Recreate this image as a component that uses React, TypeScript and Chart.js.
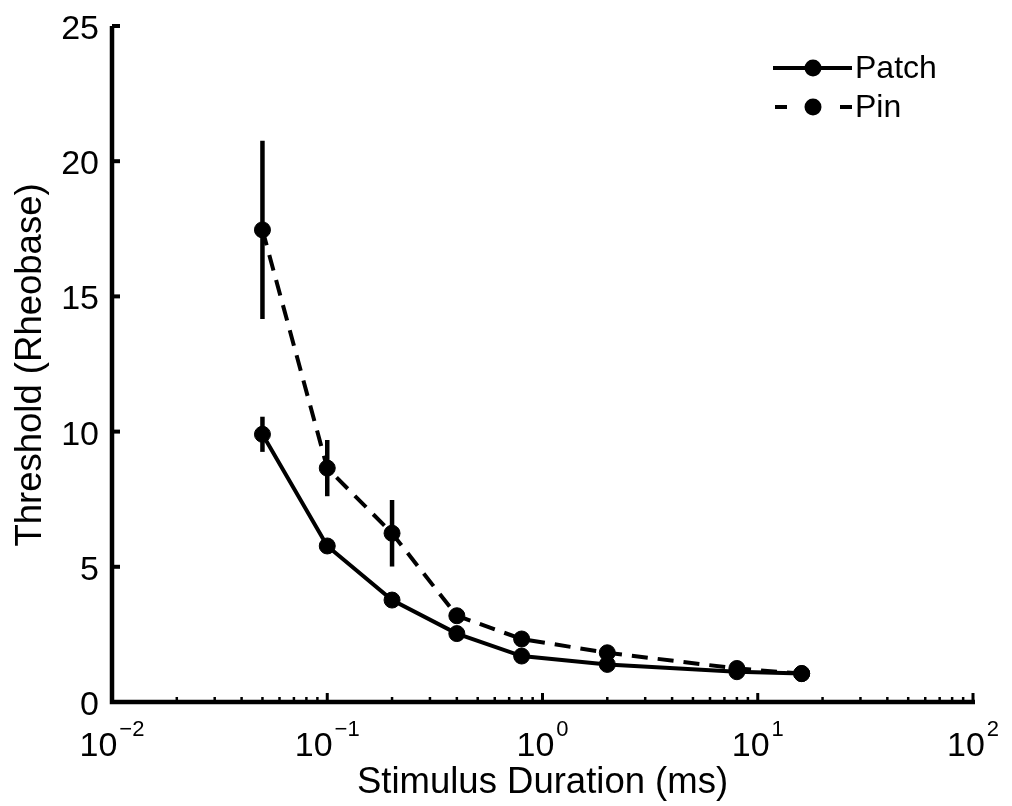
import React, { useEffect, useRef } from "react";
import { Chart, registerables } from "chart.js";

Chart.register(...registerables);

// ---- data ----
const DURATIONS = [0.05, 0.1, 0.2, 0.4, 0.8, 2, 8, 16];
const PATCH = [9.9, 5.77, 3.77, 2.53, 1.7, 1.39, 1.12, 1.05];
const PATCH_ERR = [0.65, 0, 0, 0, 0, 0, 0, 0];
const PIN = [17.46, 8.65, 6.24, 3.19, 2.33, 1.82, 1.24, 1.05];
const PIN_ERR = [3.3, 1.04, 1.23, 0, 0, 0, 0, 0];
const Y_TICKS = [0, 5, 10, 15, 20, 25];
const X_EXPONENTS = [-2, -1, 0, 1, 2];
const SERIES_NAMES = ["Patch", "Pin"];
const X_TITLE = "Stimulus Duration (ms)";
const Y_TITLE = "Threshold (Rheobase)";

const FONT = '"Liberation Sans", Arial, Helvetica, sans-serif';

const customPlugin = {
  id: "matlabStyle",
  beforeDatasetsDraw(chart: any) {
    const ctx = chart.ctx;
    const xs = chart.scales.x;
    const ys = chart.scales.y;
    ctx.save();
    ctx.strokeStyle = "#000";
    ctx.lineWidth = 4.5;
    ctx.lineCap = "butt";
    const errs = [PATCH_ERR, PIN_ERR];
    const vals = [PATCH, PIN];
    for (let s = 0; s < 2; s++) {
      for (let i = 0; i < DURATIONS.length; i++) {
        const e = errs[s][i];
        if (!e) continue;
        const px = xs.getPixelForValue(DURATIONS[i]);
        ctx.beginPath();
        ctx.moveTo(px, ys.getPixelForValue(vals[s][i] + e));
        ctx.lineTo(px, ys.getPixelForValue(vals[s][i] - e));
        ctx.stroke();
      }
    }
    ctx.restore();
  },
  afterDraw(chart: any) {
    const ctx = chart.ctx;
    const xs = chart.scales.x;
    const ys = chart.scales.y;
    const left = xs.getPixelForValue(0.01);
    const right = xs.getPixelForValue(100);
    const bottom = ys.getPixelForValue(0);
    const top = ys.getPixelForValue(25);
    ctx.save();
    ctx.strokeStyle = "#000";
    ctx.fillStyle = "#000";
    ctx.lineCap = "butt";

    // axes lines
    ctx.lineWidth = 4.5;
    ctx.beginPath();
    ctx.moveTo(left, top);
    ctx.lineTo(left, bottom);
    ctx.lineTo(right + 2, bottom);
    ctx.stroke();

    // y ticks (inward)
    ctx.lineWidth = 4;
    for (const t of Y_TICKS) {
      const py = ys.getPixelForValue(t);
      ctx.beginPath();
      ctx.moveTo(left, py);
      ctx.lineTo(left + 8, py);
      ctx.stroke();
    }
    // x ticks (major + minor, inward)
    for (const e of X_EXPONENTS) {
      const px = xs.getPixelForValue(Math.pow(10, e));
      ctx.lineWidth = 3;
      ctx.beginPath();
      ctx.moveTo(px, bottom);
      ctx.lineTo(px, bottom - 9);
      ctx.stroke();
      if (e < 2) {
        for (let m = 2; m <= 9; m++) {
          const mx = xs.getPixelForValue(m * Math.pow(10, e));
          ctx.lineWidth = 2.5;
          ctx.beginPath();
          ctx.moveTo(mx, bottom);
          ctx.lineTo(mx, bottom - 5);
          ctx.stroke();
        }
      }
    }

    // y tick labels
    ctx.font = `34px ${FONT}`;
    ctx.textAlign = "right";
    ctx.textBaseline = "alphabetic";
    for (const t of Y_TICKS) {
      const py = ys.getPixelForValue(t);
      ctx.fillText(String(t), left - 13, py + 13);
    }

    // x tick labels with superscripts
    for (const e of X_EXPONENTS) {
      const px = xs.getPixelForValue(Math.pow(10, e));
      const base = "10";
      const sup = e < 0 ? "\u2212" + Math.abs(e) : String(e);
      ctx.font = `34px ${FONT}`;
      const wb = ctx.measureText(base).width;
      ctx.font = `22px ${FONT}`;
      const ws = ctx.measureText(sup).width;
      const total = wb + 2 + ws;
      const x0 = px - total / 2;
      ctx.textAlign = "left";
      ctx.font = `34px ${FONT}`;
      ctx.fillText(base, x0, bottom + 54);
      ctx.font = `22px ${FONT}`;
      ctx.fillText(sup, x0 + wb + 2, bottom + 34);
    }

    // axis titles
    ctx.font = `36.5px ${FONT}`;
    ctx.textAlign = "center";
    ctx.fillText(X_TITLE, (left + right) / 2, bottom + 91);
    ctx.save();
    ctx.translate(41, 365);
    ctx.rotate(-Math.PI / 2);
    ctx.fillText(Y_TITLE, 0, 0);
    ctx.restore();

    // legend
    const lx0 = 773;
    const lx1 = 852;
    const ldot = 813;
    const rows = [68, 107];
    ctx.lineWidth = 4;
    // Patch (solid)
    ctx.beginPath();
    ctx.moveTo(lx0, rows[0]);
    ctx.lineTo(lx1, rows[0]);
    ctx.stroke();
    // Pin (dashed)
    ctx.beginPath();
    ctx.moveTo(lx0 + 2, rows[1]);
    ctx.lineTo(lx0 + 14, rows[1]);
    ctx.moveTo(lx1 - 12, rows[1]);
    ctx.lineTo(lx1, rows[1]);
    ctx.stroke();
    for (const r of rows) {
      ctx.beginPath();
      ctx.arc(ldot, r, 8.5, 0, Math.PI * 2);
      ctx.fill();
    }
    ctx.font = `32px ${FONT}`;
    ctx.textAlign = "left";
    ctx.textBaseline = "middle";
    ctx.fillText(SERIES_NAMES[0], 855, rows[0] + 1);
    ctx.fillText(SERIES_NAMES[1], 855, rows[1] + 1);
    ctx.restore();
  },
};

export default function App() {
  const ref = useRef<HTMLCanvasElement | null>(null);
  useEffect(() => {
    if (!ref.current) return;
    const chart = new Chart(ref.current, {
      type: "line",
      data: {
        datasets: [
          {
            label: SERIES_NAMES[0],
            data: DURATIONS.map((x, i) => ({ x, y: PATCH[i] })),
            borderColor: "#000",
            backgroundColor: "#000",
            borderWidth: 4,
            pointRadius: 8,
            pointBorderWidth: 1,
            pointBackgroundColor: "#000",
            pointBorderColor: "#000",
            tension: 0,
          },
          {
            label: SERIES_NAMES[1],
            data: DURATIONS.map((x, i) => ({ x, y: PIN[i] })),
            borderColor: "#000",
            backgroundColor: "#000",
            borderWidth: 4,
            borderDash: [16, 10],
            pointRadius: 8,
            pointBorderWidth: 1,
            pointBackgroundColor: "#000",
            pointBorderColor: "#000",
            tension: 0,
          },
        ],
      },
      options: {
        animation: false,
        responsive: false,
        clip: false as any,
        layout: { padding: { left: 112, right: 39, top: 26, bottom: 104 } },
        plugins: { legend: { display: false }, tooltip: { enabled: false } },
        scales: {
          x: { type: "logarithmic", min: 0.01, max: 100, display: false },
          y: { type: "linear", min: 0, max: 25, display: false },
        },
      },
      plugins: [customPlugin],
    });
    return () => chart.destroy();
  }, []);
  return (
    <div style={{ position: "fixed", left: 0, top: 0, width: 1012, height: 806, background: "#fff" }}>
      <canvas ref={ref} width={1012} height={806} style={{ display: "block" }} />
    </div>
  );
}
